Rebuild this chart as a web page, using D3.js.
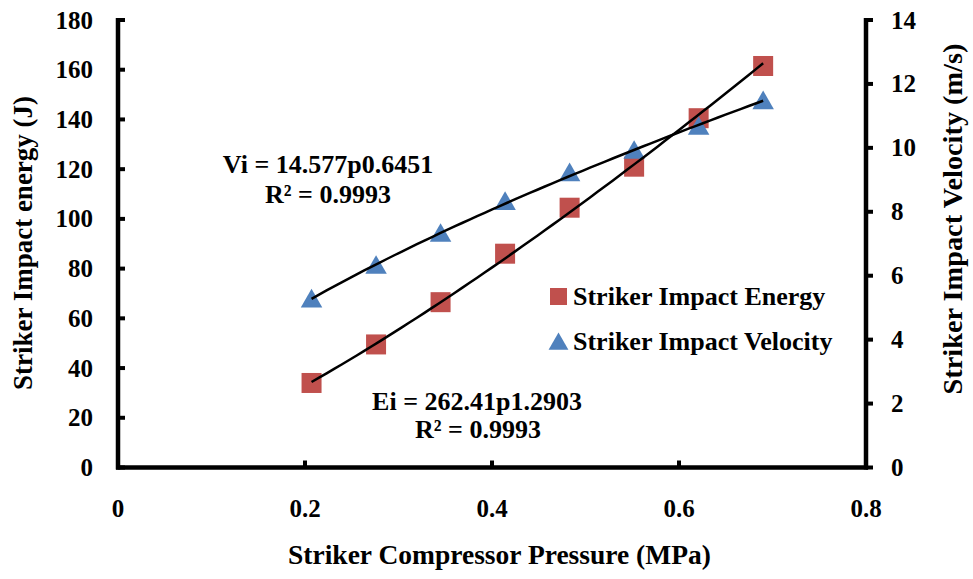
<!DOCTYPE html>
<html>
<head>
<meta charset="utf-8">
<script src="https://cdn.jsdelivr.net/npm/d3@7/dist/d3.min.js"></script>
<style>
  html, body { margin: 0; padding: 0; background: #fff; }
  svg text { font-family: "Liberation Serif", "Times New Roman", serif; font-weight: bold; fill: #000; }
</style>
</head>
<body>
<svg id="chart" width="973" height="579"></svg>
<script>
// Striker compressor pressure (MPa)
const pressure = [0.207, 0.276, 0.345, 0.414, 0.483, 0.552, 0.621, 0.690];
// Striker impact energy (J)
const energy = [34, 49.5, 66.5, 86, 104.5, 121, 140.5, 161.5];
// Striker impact velocity (m/s)
const velocity = [5.25, 6.3, 7.3, 8.3, 9.2, 9.9, 10.65, 11.45];

// Power-law fits: y = a * p^b
const energyFit = { a: 262.41, b: 1.2903, r2: 0.9993 };
const velocityFit = { a: 14.577, b: 0.6451, r2: 0.9993 };

const xTicks = [0, 0.2, 0.4, 0.6, 0.8];
const yLeftTicks = [0, 20, 40, 60, 80, 100, 120, 140, 160, 180];
const yRightTicks = [0, 2, 4, 6, 8, 10, 12, 14];

const seriesNames = ["Striker Impact Energy", "Striker Impact Velocity"];
const colors = { energy: "#C0504D", velocity: "#4F81BD" };

const svg = d3.select("#chart");
const plotL = 118, plotR = 866, plotT = 20, plotB = 467.5;

const x = d3.scaleLinear().domain([0, 0.8]).range([plotL, plotR]);
const yL = d3.scaleLinear().domain([0, 180]).range([plotB, plotT]);
const yR = d3.scaleLinear().domain([0, 14]).range([plotB, plotT]);

// Fit curves over the measured pressure range
function fitCurve(fit) {
  const p0 = d3.min(pressure), p1 = d3.max(pressure);
  return d3.range(0, 61).map(i => {
    const p = p0 + (p1 - p0) * i / 60;
    return [p, fit.a * Math.pow(p, fit.b)];
  });
}

// Markers
const sq = 20;
svg.append("g").selectAll("rect").data(pressure).join("rect")
  .attr("x", (d) => x(d) - sq / 2)
  .attr("y", (d, i) => yL(energy[i]) - sq / 2)
  .attr("width", sq).attr("height", sq)
  .attr("fill", colors.energy);

const tri = d3.symbol().type(d3.symbolTriangle).size(200);
svg.append("g").selectAll("path").data(pressure).join("path")
  .attr("d", tri)
  .attr("transform", (d, i) => `translate(${x(d)},${yR(velocity[i]) + 1.5})`)
  .attr("fill", colors.velocity);

// Trend lines
svg.append("path")
  .datum(fitCurve(velocityFit))
  .attr("d", d3.line().x(d => x(d[0])).y(d => yR(d[1])))
  .attr("fill", "none").attr("stroke", "#000").attr("stroke-width", 2.5);
svg.append("path")
  .datum(fitCurve(energyFit))
  .attr("d", d3.line().x(d => x(d[0])).y(d => yL(d[1])))
  .attr("fill", "none").attr("stroke", "#000").attr("stroke-width", 2.5);

// Axes
const axisW = 4.5;
const gAx = svg.append("g");
gAx.append("line").attr("x1", plotL).attr("x2", plotL).attr("y1", plotT - 2).attr("y2", plotB + 2)
  .attr("stroke", "#000").attr("stroke-width", axisW);
gAx.append("line").attr("x1", plotR).attr("x2", plotR).attr("y1", plotT - 2).attr("y2", plotB + 2)
  .attr("stroke", "#000").attr("stroke-width", axisW);
gAx.append("line").attr("x1", plotL - 2).attr("x2", plotR + 2).attr("y1", plotB).attr("y2", plotB)
  .attr("stroke", "#000").attr("stroke-width", axisW);

// Left ticks (inward)
gAx.append("g").selectAll("line").data(yLeftTicks).join("line")
  .attr("x1", plotL).attr("x2", plotL + 7)
  .attr("y1", d => yL(d)).attr("y2", d => yL(d))
  .attr("stroke", "#000").attr("stroke-width", 4);
// Right ticks (outward)
gAx.append("g").selectAll("line").data(yRightTicks).join("line")
  .attr("x1", plotR).attr("x2", plotR + 7)
  .attr("y1", d => yR(d)).attr("y2", d => yR(d))
  .attr("stroke", "#000").attr("stroke-width", 4);
// Bottom ticks (inward)
gAx.append("g").selectAll("line").data(xTicks.slice(1, -1)).join("line")
  .attr("x1", d => x(d)).attr("x2", d => x(d))
  .attr("y1", plotB).attr("y2", plotB - 7)
  .attr("stroke", "#000").attr("stroke-width", 4);

// Tick labels
const tickFont = 25;
svg.append("g").selectAll("text").data(yLeftTicks).join("text")
  .attr("x", 93).attr("y", d => yL(d)).attr("dy", "0.34em")
  .attr("text-anchor", "end").attr("font-size", tickFont)
  .text(d => d);
svg.append("g").selectAll("text").data(yRightTicks).join("text")
  .attr("x", 891).attr("y", d => yR(d)).attr("dy", "0.34em")
  .attr("text-anchor", "start").attr("font-size", tickFont)
  .text(d => d);
svg.append("g").selectAll("text").data(xTicks).join("text")
  .attr("x", d => x(d)).attr("y", 517)
  .attr("text-anchor", "middle").attr("font-size", tickFont)
  .text(d => d3.format("")(d));

// Axis titles
svg.append("text")
  .attr("transform", "translate(32,243) rotate(-90)")
  .attr("text-anchor", "middle").attr("font-size", 27)
  .text("Striker Impact energy (J)");
svg.append("text")
  .attr("transform", "translate(962,219) rotate(-90)")
  .attr("text-anchor", "middle").attr("font-size", 28.3)
  .text("Striker Impact Velocity (m/s)");
svg.append("text")
  .attr("x", 499.5).attr("y", 564)
  .attr("text-anchor", "middle").attr("font-size", 27.5)
  .text("Striker Compressor Pressure (MPa)");

// Fit equations
const eqFont = 26;
svg.append("text").attr("x", 328).attr("y", 173).attr("text-anchor", "middle").attr("font-size", eqFont)
  .text(`Vi = ${velocityFit.a}p${velocityFit.b}`);
svg.append("text").attr("x", 328).attr("y", 203).attr("text-anchor", "middle").attr("font-size", eqFont)
  .text(`R² = ${velocityFit.r2}`);
svg.append("text").attr("x", 477).attr("y", 410).attr("text-anchor", "middle").attr("font-size", eqFont)
  .text(`Ei = ${energyFit.a}p${energyFit.b}`);
svg.append("text").attr("x", 478).attr("y", 438).attr("text-anchor", "middle").attr("font-size", eqFont)
  .text(`R² = ${energyFit.r2}`);

// Legend
const lg = svg.append("g");
lg.append("rect").attr("x", 550).attr("y", 288).attr("width", 17).attr("height", 17).attr("fill", colors.energy);
lg.append("text").attr("x", 573).attr("y", 305).attr("font-size", 26).text(seriesNames[0]);
lg.append("path").attr("d", d3.symbol().type(d3.symbolTriangle).size(170))
  .attr("transform", "translate(558.5,344)").attr("fill", colors.velocity);
lg.append("text").attr("x", 573).attr("y", 350).attr("font-size", 26).text(seriesNames[1]);
</script>
</body>
</html>
